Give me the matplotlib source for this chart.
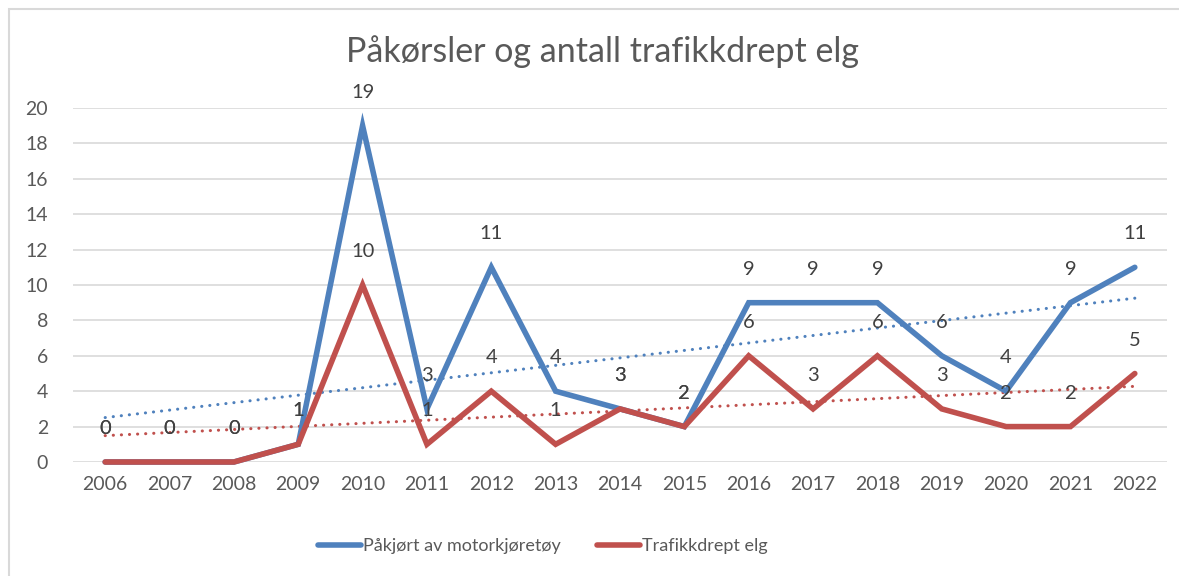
import numpy as np
import matplotlib
matplotlib.use("Agg")
import matplotlib.pyplot as plt
from matplotlib.patches import Rectangle

years = ["2006", "2007", "2008", "2009", "2010", "2011", "2012", "2013", "2014",
         "2015", "2016", "2017", "2018", "2019", "2020", "2021", "2022"]
pakjort = [0, 0, 0, 1, 19, 3, 11, 4, 3, 2, 9, 9, 9, 6, 4, 9, 11]
drept = [0, 0, 0, 1, 10, 1, 4, 1, 3, 2, 6, 3, 6, 3, 2, 2, 5]
series_names = ["Påkjørt av motorkjøretøy", "Trafikkdrept elg"]
title = "Påkørsler og antall trafikkdrept elg"

plt.rcParams["font.family"] = ["Lato", "DejaVu Sans"]

W, H = 1179, 576
fig = plt.figure(figsize=(W / 100, H / 100), dpi=100)

# chart border (Excel style), runs off the right/bottom edge
fig.patches.append(Rectangle((9 / W, -0.1), 1.2, 1 - 9 / H + 0.1,
                             transform=fig.transFigure, fill=False,
                             edgecolor="#D9D9D9", lw=1.5))

ax = fig.add_axes([73 / W, (H - 462) / H, 1094 / W, 354 / H])
x = np.arange(len(years))

blue = "#4F81BD"
red = "#C0504D"
for vals, col, name in [(pakjort, blue, series_names[0]), (drept, red, series_names[1])]:
    ax.plot(x, vals, color=col, lw=4.0, solid_joinstyle="miter",
            solid_capstyle="round", label=name, clip_on=False, zorder=3)
    k, m = np.polyfit(x, vals, 1)
    ax.plot(x, k * x + m, color=col, lw=2.2, ls=(0, (0.05, 2.6)),
            dash_capstyle="round", clip_on=False, zorder=2)

for vals in (pakjort, drept):
    for xi, v in zip(x, vals):
        ax.annotate(str(v), (xi, v), xytext=(0, 24), textcoords="offset points",
                    ha="center", va="center", fontsize=14.5, color="#404040",
                    annotation_clip=False, zorder=4)

ax.set_xlim(-0.5, len(years) - 0.5)
ax.set_ylim(0, 20)
ax.set_yticks(range(0, 21, 2))
ax.set_xticks(x)
ax.set_xticklabels(years)
ax.tick_params(length=0, labelsize=14, labelcolor="#595959")
ax.tick_params(axis="y", pad=18)
ax.tick_params(axis="x", pad=10)
ax.grid(axis="y", color="#D9D9D9", lw=1.2)
ax.set_axisbelow(True)
for s in ax.spines.values():
    s.set_visible(False)

fig.text(602 / W, 1 - 52 / H, title, ha="center", va="center",
         fontsize=24.5, color="#595959")

leg = fig.legend(loc="center", bbox_to_anchor=(543 / W, 1 - 546 / H),
                 ncol=2, frameon=False, fontsize=13, handlelength=2.4,
                 handletextpad=0.1, columnspacing=2.0)
for t in leg.get_texts():
    t.set_color("#595959")

fig.savefig("out.png", dpi=100)
